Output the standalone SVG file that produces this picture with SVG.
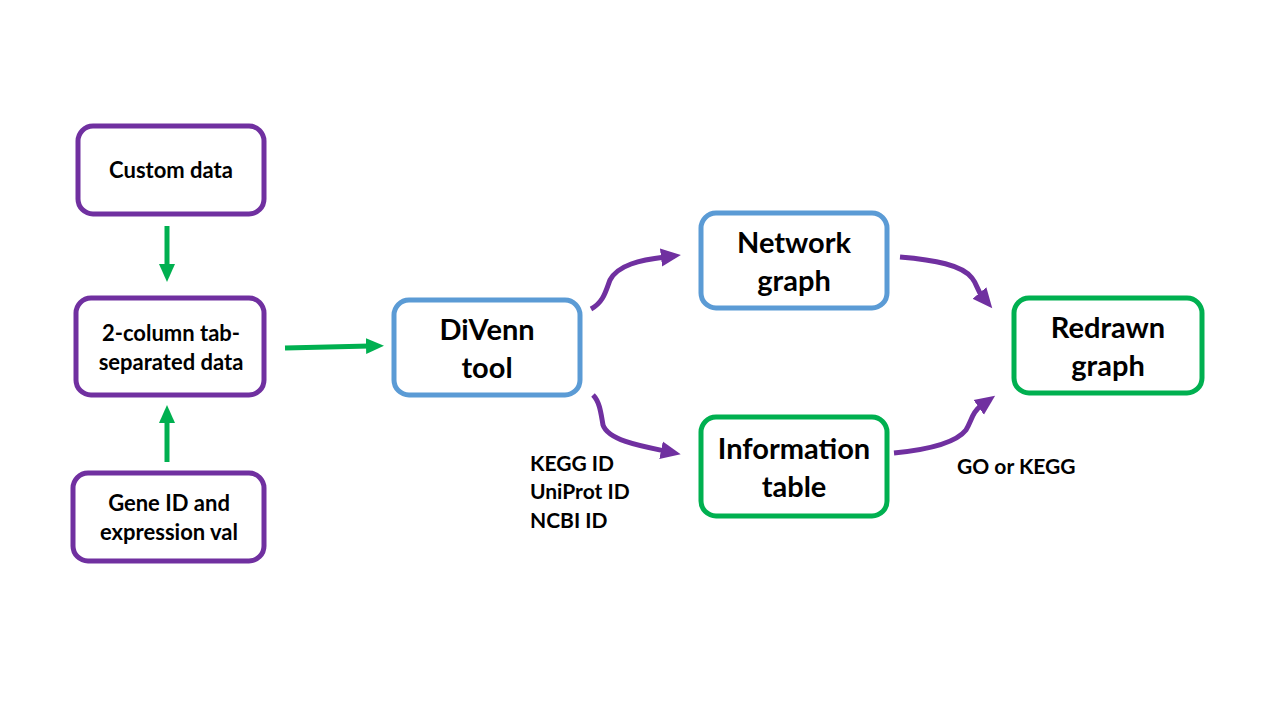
<svg xmlns="http://www.w3.org/2000/svg" width="1280" height="720" viewBox="0 0 1280 720">
<defs>
<style>
.box{fill:#fff;stroke-width:5}
.pu{stroke:#7030A0}
.bl{stroke:#5B9BD5}
.gr{stroke:#00B050}
.t{font-family:Lato,"Liberation Sans",sans-serif;font-weight:bold;fill:#000;text-anchor:middle}
.s{font-size:22px}
.l{font-size:29px}
.lab{font-family:Lato,"Liberation Sans",sans-serif;font-weight:bold;fill:#000;font-size:21px}
.ga{fill:none;stroke:#00B050;stroke-width:5}
.pa{fill:none;stroke:#7030A0;stroke-width:5}
</style>
<marker id="gh" markerUnits="userSpaceOnUse" markerWidth="20" markerHeight="20" viewBox="0 0 20 20" refX="4" refY="10" orient="auto">
<path d="M0,2 L18,10 L0,18 Z" fill="#00B050"/>
</marker>
<marker id="ph" markerUnits="userSpaceOnUse" markerWidth="22" markerHeight="22" viewBox="0 0 22 22" refX="4" refY="11" orient="auto">
<path d="M0,2 L20,11 L0,20 Z" fill="#7030A0"/>
</marker>
</defs>
<rect width="1280" height="720" fill="#fff"/>
<g id="connectors">
<path class="ga" d="M167,226 L167,268" marker-end="url(#gh)"/>
<path class="ga" d="M167,462 L167,419" marker-end="url(#gh)"/>
<path class="ga" d="M285,348 L370,346" marker-end="url(#gh)"/>
<path class="pa" d="M591,309 C604,302 606,290 610,280 C618,265 640,260 665,257" marker-end="url(#ph)"/>
<path class="pa" d="M593,395 C600,402 601,414 603,425 C608,440 640,446 665,451" marker-end="url(#ph)"/>
<path class="pa" d="M900,257 C935,260 962,265 972,278 C977,284 977,290 982,296" marker-end="url(#ph)"/>
<path class="pa" d="M894,453 C925,450 955,444 966,430 C972,420 972,412 982,405" marker-end="url(#ph)"/>
</g>
<g id="custom"><rect class="box pu" x="78" y="126" width="186" height="88" rx="15"/><text class="t s" x="171" y="178">Custom data</text></g>
<g id="twocol"><rect class="box pu" x="76" y="298" width="188" height="97" rx="15"/><text class="t s" x="171" y="341">2-column tab-</text><text class="t s" x="171" y="370">separated data</text></g>
<g id="gene"><rect class="box pu" x="73" y="473" width="191" height="88" rx="15"/><text class="t s" x="169" y="511">Gene ID and</text><text class="t s" x="169" y="540">expression val</text></g>
<g id="divenn"><rect class="box bl" x="394" y="300" width="186" height="95" rx="15"/><text class="t l" x="487" y="340">DiVenn</text><text class="t l" x="487" y="378">tool</text></g>
<g id="network"><rect class="box bl" x="701" y="213" width="186" height="95" rx="15"/><text class="t l" x="794" y="253">Network</text><text class="t l" x="794" y="291">graph</text></g>
<g id="info"><rect class="box gr" x="701" y="417" width="186" height="99" rx="15"/><text class="t l" x="794" y="459">Information</text><text class="t l" x="794" y="497">table</text></g>
<g id="redrawn"><rect class="box gr" x="1014" y="298" width="188" height="95" rx="15"/><text class="t l" x="1108" y="338">Redrawn</text><text class="t l" x="1108" y="376">graph</text></g>
<g id="labels">
<text class="lab" x="530" y="471">KEGG ID</text>
<text class="lab" x="530" y="499">UniProt ID</text>
<text class="lab" x="530" y="528">NCBI ID</text>
<text class="lab" x="957" y="474">GO or KEGG</text>
</g>
</svg>
